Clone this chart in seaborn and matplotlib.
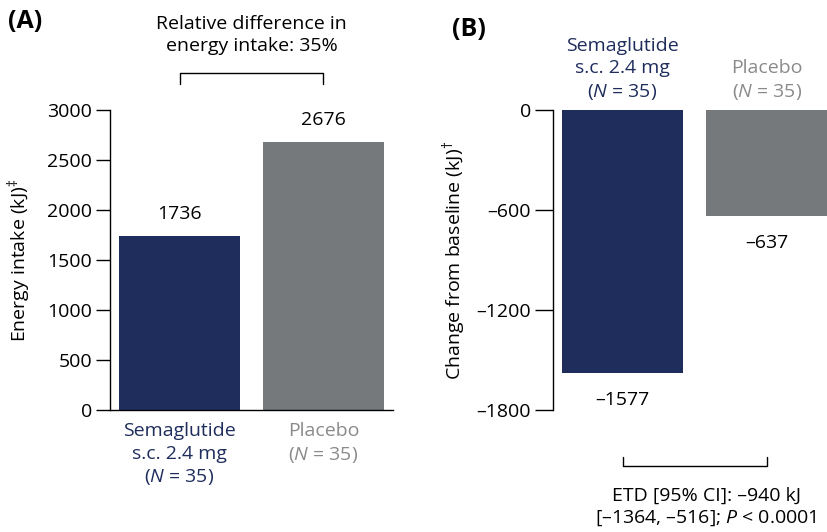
import matplotlib
matplotlib.use("Agg")
import matplotlib.pyplot as plt
import seaborn as sns
import pandas as pd

# datos del grafico
grupos = ["Semaglutide", "Placebo"]
ingesta = [1736, 2676]          # panel A, kJ
cambio = [-1577, -637]          # panel B, kJ
etiquetas_a = ["Semaglutide\ns.c. 2.4 mg\n($\\it{N}$ = 35)", "Placebo\n($\\it{N}$ = 35)"]
ticks_a = [0, 500, 1000, 1500, 2000, 2500, 3000]
ticks_b = [0, -600, -1200, -1800]
ticks_b_txt = ["0", "\u2013600", "\u20131200", "\u20131800"]

azul = "#1f2d5c"
gris = "#75797c"
gris_txt = "#8a8a8a"
fs = 14

sns.set_style("ticks")
plt.rcParams["font.family"] = ["Open Sans", "DejaVu Sans"]
plt.rcParams["mathtext.fontset"] = "custom"
plt.rcParams["mathtext.rm"] = "Open Sans"
plt.rcParams["mathtext.it"] = "Open Sans:italic"
plt.rcParams["font.size"] = fs
for k in ["text.color", "axes.labelcolor", "xtick.color", "ytick.color", "axes.edgecolor"]:
    plt.rcParams[k] = "black"

fig = plt.figure(figsize=(8.28, 5.32), dpi=100)
axA = fig.add_axes([110/828, 1-410/532, (393-110)/828, 300/532])
axB = fig.add_axes([553/828, 1-410/532, (828-553)/828, 300/532])

# ---- Panel A
dfA = pd.DataFrame({"grupo": grupos, "valor": ingesta})
sns.barplot(data=dfA, x="grupo", y="valor", hue="grupo", palette=[azul, gris],
            width=0.84, ax=axA, legend=False, saturation=1, linewidth=0)
axA.set_xlim(-0.483, 1.483)
axA.set_ylim(0, 3000)
axA.set_yticks(ticks_a)
axA.set_xticks([0, 1])
axA.set_xticklabels(etiquetas_a)
for lbl, c in zip(axA.get_xticklabels(), [azul, gris_txt]):
    lbl.set_color(c)
    lbl.set_linespacing(1.3)
axA.tick_params(axis="x", length=0, pad=9, labelsize=fs)
axA.tick_params(axis="y", length=10, width=1, labelsize=fs, pad=3)
sns.despine(ax=axA)
for s in ["left", "bottom"]:
    axA.spines[s].set_linewidth(1)
    axA.spines[s].set_color("black")
axA.set_xlabel("")
axA.set_ylabel("Energy intake (kJ)$^{\u2021}$", fontsize=fs)
axA.yaxis.set_label_coords(-0.272, 0.5)
for i, v in enumerate(ingesta):
    axA.text(i, v + 130, str(v), ha="center", va="bottom", fontsize=fs)
# corchete diferencia relativa
axA.plot([0, 0, 1, 1], [3260, 3370, 3370, 3260], color="black", lw=1, clip_on=False)
axA.text(0.5, 3750, "Relative difference in\nenergy intake: 35%", ha="center", va="center",
         fontsize=fs, linespacing=1.3)
fig.text(8/828, 1-22/532, "(A)", fontsize=18, fontweight="bold", ha="left", va="center")

# ---- Panel B
dfB = pd.DataFrame({"grupo": grupos, "valor": cambio})
sns.barplot(data=dfB, x="grupo", y="valor", hue="grupo", palette=[azul, gris],
            width=0.84, ax=axB, legend=False, saturation=1, linewidth=0)
axB.set_xlim(-0.481, 1.422)
axB.set_ylim(-1800, 0)
axB.set_yticks(ticks_b)
axB.set_yticklabels(ticks_b_txt)
axB.xaxis.tick_top()
axB.set_xticks([0, 1])
axB.set_xticklabels(etiquetas_a)
for lbl, c in zip(axB.get_xticklabels(), [azul, gris_txt]):
    lbl.set_color(c)
    lbl.set_linespacing(1.3)
axB.tick_params(axis="x", length=0, pad=6, labelsize=fs)
axB.tick_params(axis="y", length=13, width=1, labelsize=fs, pad=3)
for s in ["top", "right", "bottom"]:
    axB.spines[s].set_visible(False)
axB.spines["left"].set_linewidth(1)
axB.spines["left"].set_color("black")
axB.set_xlabel("")
axB.set_ylabel("Change from baseline (kJ)$^{\u2020}$", fontsize=fs)
axB.yaxis.set_label_coords(-0.309, 0.5)
for i, v in enumerate(cambio):
    axB.text(i, v - 110, "\u2013" + str(abs(v)), ha="center", va="top", fontsize=fs)
axB.plot([0, 0, 1, 1], [-2082, -2136, -2136, -2082], color="black", lw=1, clip_on=False)
axB.text(0.578, -2385, "ETD [95% CI]: \u2013940 kJ\n[\u20131364, \u2013516]; $\\it{P}$ < 0.0001",
         ha="center", va="center", fontsize=fs, linespacing=1.3)
fig.text(452/828, 1-30/532, "(B)", fontsize=18, fontweight="bold", ha="left", va="center")

fig.savefig("out.png", dpi=100)
